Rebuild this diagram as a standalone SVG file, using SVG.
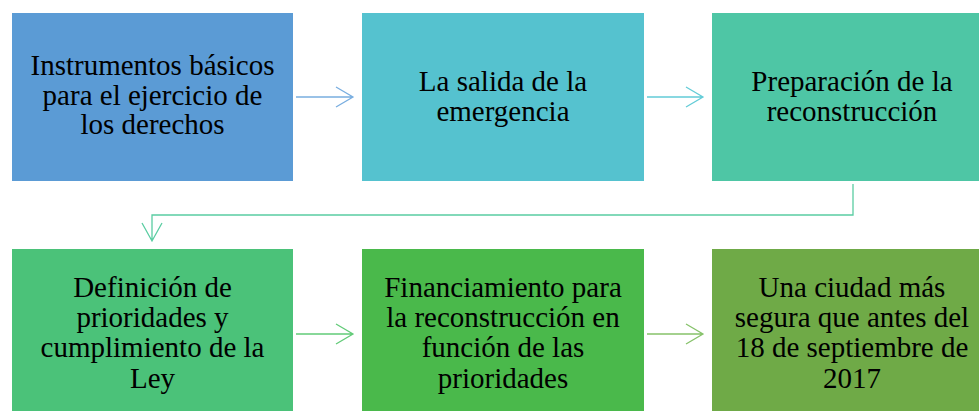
<svg xmlns="http://www.w3.org/2000/svg" width="979" height="411" viewBox="0 0 979 411">
<style>
  text { font-family: "Liberation Serif", "Times New Roman", serif; font-size: 29px; fill: #000; text-anchor: middle; }
  .conn { fill: none; stroke-width: 1.3; }
</style>
<rect width="979" height="411" fill="#ffffff"/>
<g id="node1">
  <rect x="12" y="13" width="281" height="168" fill="#5B9BD5"/>
  <text x="152.5" y="75">Instrumentos básicos</text>
  <text x="152.5" y="105">para el ejercicio de</text>
  <text x="152.5" y="134">los derechos</text>
</g>
<g id="node2">
  <rect x="362" y="13" width="282" height="168" fill="#55C2CF"/>
  <text x="503" y="91">La salida de la</text>
  <text x="503" y="121">emergencia</text>
</g>
<g id="node3">
  <rect x="712" y="13" width="281" height="168" fill="#4EC6A5"/>
  <text x="852" y="91">Preparación de la</text>
  <text x="852" y="121">reconstrucción</text>
</g>
<g id="node4">
  <rect x="12" y="249" width="281" height="162" fill="#4BC279"/>
  <text x="152.5" y="297">Definición de</text>
  <text x="152.5" y="327">prioridades y</text>
  <text x="152.5" y="357">cumplimiento de la</text>
  <text x="152.5" y="388">Ley</text>
</g>
<g id="node5">
  <rect x="362" y="249" width="282" height="162" fill="#4AB94B"/>
  <text x="503" y="297">Financiamiento para</text>
  <text x="503" y="327">la reconstrucción en</text>
  <text x="503" y="357">función de las</text>
  <text x="503" y="388">prioridades</text>
</g>
<g id="node6">
  <rect x="712" y="249" width="281" height="162" fill="#6FAA47"/>
  <text x="852" y="297">Una ciudad más</text>
  <text x="852" y="327">segura que antes del</text>
  <text x="852" y="357">18 de septiembre de</text>
  <text x="852" y="388">2017</text>
</g>
<g id="connectors">
  <path class="conn" stroke="#79AEE0" d="M296 97 H353 M336 87 L353 97 L336 107"/>
  <path class="conn" stroke="#63CCD7" d="M647 97 H703 M686 87 L703 97 L686 107"/>
  <path class="conn" stroke="#5ACDA2" d="M853 184 V215 H152 V241 M142 223 L152 241 L162 223"/>
  <path class="conn" stroke="#62CB78" d="M296 334 H353 M336 324 L353 334 L336 344"/>
  <path class="conn" stroke="#86C26A" d="M647 334 H703 M686 324 L703 334 L686 344"/>
</g>
</svg>
